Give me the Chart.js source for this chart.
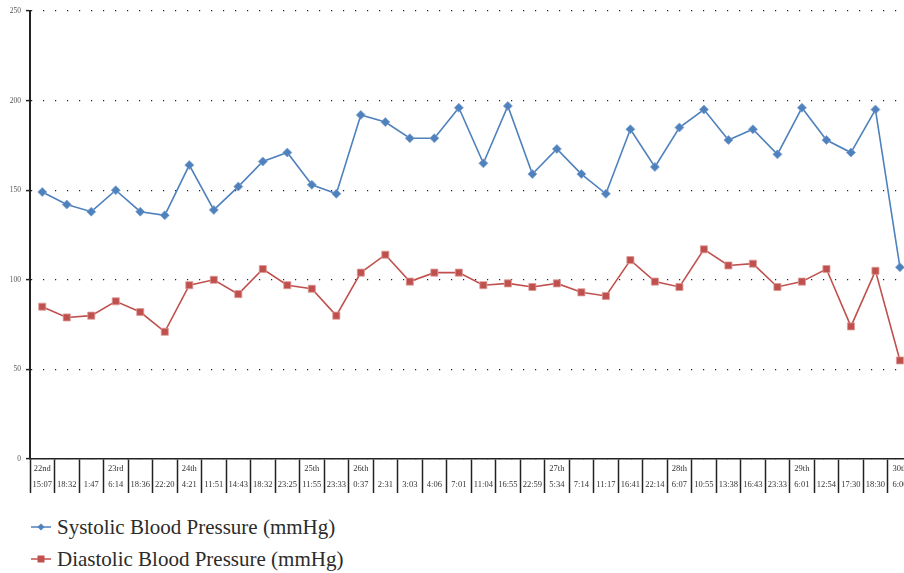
<!DOCTYPE html>
<html><head><meta charset="utf-8">
<script src="https://cdn.jsdelivr.net/npm/chart.js@4"></script>
<style>
html,body{margin:0;padding:0;background:#fff;overflow:hidden;width:904px;height:573px;}
#wrap{position:absolute;left:0;top:0;width:918px;height:493px;}
#legend{position:absolute;left:31px;top:511px;font-family:"Liberation Serif","DejaVu Serif",serif;font-size:21px;color:#2b2b2b;}
.item{display:flex;align-items:center;height:32px;white-space:nowrap;}
.item svg{margin-right:6px;}
</style></head>
<body>
<div id="wrap"><canvas id="c"></canvas></div>
<div id="legend"></div>
<script>
const dayLabels = ["22nd","","","23rd","","","24th","","","","","25th","","26th","","","","","","","","27th","","","","","28th","","","","","29th","","","","30th"];
const timeLabels = ["15:07","18:32","1:47","6:14","18:36","22:20","4:21","11:51","14:43","18:32","23:25","11:55","23:33","0:37","2:31","3:03","4:06","7:01","11:04","16:55","22:59","5:34","7:14","11:17","16:41","22:14","6:07","10:55","13:38","16:43","23:33","6:01","12:54","17:30","18:30","6:00"];
const systolic = [149,142,138,150,138,136,164,139,152,166,171,153,148,192,188,179,179,196,165,197,159,173,159,148,184,163,185,195,178,184,170,196,178,171,195,107];
const diastolic = [85,79,80,88,82,71,97,100,92,106,97,95,80,104,114,99,104,104,97,98,96,98,93,91,111,99,96,117,108,109,96,99,106,74,105,55];
const yTicks = [0,50,100,150,200,250];
const seriesNames = ["Systolic Blood Pressure (mmHg)","Diastolic Blood Pressure (mmHg)"];
const blue = "#4F81BD", red = "#C0504D";

const labels = timeLabels.map((t,i)=>[dayLabels[i], t]);
const serif = "'Liberation Serif','DejaVu Serif',serif";

new Chart(document.getElementById('c'), {
  type: 'line',
  data: {
    labels: labels,
    datasets: [
      {label: seriesNames[0], data: systolic, borderColor: blue, backgroundColor: blue, borderWidth: 1.6,
       pointStyle: 'rectRot', pointRadius: 4.5, pointBorderColor: '#7fa3d1', pointBorderWidth: 0.8, tension: 0, fill: false},
      {label: seriesNames[1], data: diastolic, borderColor: red, backgroundColor: red, borderWidth: 1.6,
       pointStyle: 'rect', pointRadius: 5, pointBorderColor: '#dc9a98', pointBorderWidth: 0.8, tension: 0, fill: false}
    ]
  },
  options: {
    responsive: true, maintainAspectRatio: false, animation: false,
    layout: {padding: {top: 11, left: 0, right: 0, bottom: 0}},
    plugins: {legend: {display: false}, tooltip: {enabled: false}},
    scales: {
      x: {
        offset: true,
        grid: {display: true, offset: true, drawOnChartArea: false, drawTicks: true, tickLength: 34, tickColor: '#222', tickWidth: 1.5},
        border: {display: true, color: '#222', width: 1.5},
        ticks: {autoSkip: false, maxRotation: 0, minRotation: 0, padding: -32, color: '#333',
                font: {family: serif, size: 8.5, lineHeight: 1.85}},
        afterFit: (s) => { s.height = 34; }
      },
      y: {
        min: 0, max: 250,
        afterBuildTicks: (s) => { s.ticks = yTicks.map(v => ({value: v})); },
        grid: {color: '#222', lineWidth: 1.2, drawTicks: true, tickLength: 4, tickColor: '#222', tickWidth: 1.5, tickBorderDash: []},
        border: {display: true, color: '#222', width: 2, dash: [1.2, 10.8]},
        ticks: {padding: 5, color: '#555', font: {family: serif, size: 7.5}},
        afterFit: (s) => { s.width = 30; }
      }
    }
  }
});

// HTML legend
const lg = document.getElementById('legend');
function marker(color, shape){
  const m = shape === 'diamond'
    ? `<polygon points="10,1.5 13.5,5 10,8.5 6.5,5" fill="${color}"/>`
    : `<rect x="6.5" y="1.5" width="7" height="7" fill="${color}"/>`;
  return `<svg width="20" height="10" viewBox="0 0 20 10"><line x1="0" y1="5" x2="20" y2="5" stroke="${color}" stroke-width="1.5"/>${m}</svg>`;
}
lg.innerHTML = `<div class="item">${marker(blue,'diamond')}<span>${seriesNames[0]}</span></div>` +
               `<div class="item">${marker(red,'square')}<span>${seriesNames[1]}</span></div>`;
</script>
</body></html>
